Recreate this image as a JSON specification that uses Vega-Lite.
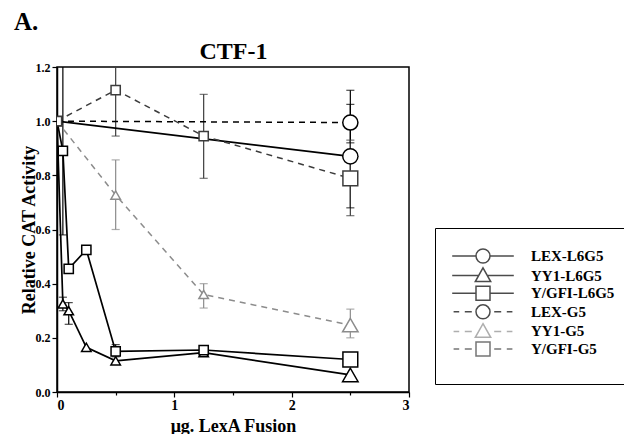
{
  "$schema": "https://vega.github.io/schema/vega-lite/v6.json",
  "width": 352,
  "height": 325,
  "autosize": {"type": "none"},
  "padding": {"left": 57, "top": 67, "right": 215, "bottom": 42},
  "background": "white",
  "title": {"text": "A.", "anchor": "start", "frame": "bounds", "fontSize": 25, "font": "Liberation Serif", "fontWeight": "bold", "color": "black", "dx": -6, "offset": 4},
  "config": {
    "view": {"stroke": "black", "strokeWidth": 1.5},
    "font": "Liberation Serif",
    "axis": {"domainColor": "black", "domainWidth": 1.5, "tickColor": "black", "tickWidth": 1.2, "labelColor": "black", "titleColor": "black", "labelFont": "Liberation Serif", "titleFont": "Liberation Serif", "labelFontWeight": "bold", "titleFontWeight": "bold", "grid": false}
  },
  "data": {"values": [
    {"series": "LEX-L6G5", "x": 0, "y": 1.0},
    {"series": "LEX-L6G5", "x": 2.5, "y": 0.87, "lo": 0.68, "hi": 1.062},
    {"series": "YY1-L6G5", "x": 0, "y": 1.0},
    {"series": "YY1-L6G5", "x": 0.05, "y": 0.325, "lo": 0.30, "hi": 0.35},
    {"series": "YY1-L6G5", "x": 0.1, "y": 0.30, "lo": 0.25, "hi": 0.33},
    {"series": "YY1-L6G5", "x": 0.25, "y": 0.165},
    {"series": "YY1-L6G5", "x": 0.5, "y": 0.115},
    {"series": "YY1-L6G5", "x": 1.25, "y": 0.145},
    {"series": "YY1-L6G5", "x": 2.5, "y": 0.063},
    {"series": "Y/GFI-L6G5", "x": 0, "y": 1.0},
    {"series": "Y/GFI-L6G5", "x": 0.05, "y": 0.89, "lo": 0.58, "hi": 1.3},
    {"series": "Y/GFI-L6G5", "x": 0.1, "y": 0.455},
    {"series": "Y/GFI-L6G5", "x": 0.25, "y": 0.525},
    {"series": "Y/GFI-L6G5", "x": 0.5, "y": 0.15, "lo": 0.13, "hi": 0.175},
    {"series": "Y/GFI-L6G5", "x": 1.25, "y": 0.155},
    {"series": "Y/GFI-L6G5", "x": 2.5, "y": 0.12},
    {"series": "LEX-G5", "x": 0, "y": 1.0},
    {"series": "LEX-G5", "x": 2.5, "y": 0.995, "lo": 0.92, "hi": 1.114},
    {"series": "YY1-G5", "x": 0, "y": 1.0},
    {"series": "YY1-G5", "x": 0.5, "y": 0.727, "lo": 0.60, "hi": 0.857},
    {"series": "YY1-G5", "x": 1.25, "y": 0.36, "lo": 0.31, "hi": 0.40},
    {"series": "YY1-G5", "x": 2.5, "y": 0.247, "lo": 0.20, "hi": 0.306},
    {"series": "Y/GFI-G5", "x": 0, "y": 1.0},
    {"series": "Y/GFI-G5", "x": 0.5, "y": 1.115, "lo": 0.945, "hi": 1.3},
    {"series": "Y/GFI-G5", "x": 1.25, "y": 0.945, "lo": 0.789, "hi": 1.099},
    {"series": "Y/GFI-G5", "x": 2.5, "y": 0.789, "lo": 0.651, "hi": 0.93}
  ]},
  "layer": [
    {
      "layer": [
        {
          "transform": [{"filter": "isValid(datum.lo)"}],
          "mark": {"type": "rule", "clip": true, "strokeWidth": 1.2},
          "encoding": {
            "x": {"field": "x", "type": "quantitative", "scale": {"domain": [0, 3], "nice": false},
              "axis": {"orient": "bottom", "values": [0, 0.5, 1, 1.5, 2, 2.5, 3], "labelExpr": "datum.value % 1 === 0 ? format(datum.value, 'd') : ''", "tickSize": {"condition": {"test": "datum.value % 1 === 0", "value": 5}, "value": 3}, "labelFontSize": 14, "labelPadding": 1, "title": "μg. LexA Fusion", "titleFontSize": 18, "titlePadding": 5}},
            "y": {"field": "lo", "type": "quantitative", "scale": {"domain": [0, 1.2], "nice": false},
              "axis": {"orient": "left", "values": [0, 0.1, 0.2, 0.3, 0.4, 0.5, 0.6, 0.7, 0.8, 0.9, 1.0, 1.1, 1.2], "labelExpr": "round(datum.value * 10) % 2 === 0 ? format(datum.value, '.1f') : ''", "tickSize": {"condition": {"test": "round(datum.value * 10) % 2 === 0", "value": 5}, "value": 3}, "labelFontSize": 12, "labelPadding": 2, "title": "Relative CAT Activity", "titleFontSize": 18, "titlePadding": -3}},
            "y2": {"field": "hi"},
            "color": {"field": "series", "type": "nominal"}
          }
        },
        {
          "transform": [{"filter": "isValid(datum.lo)"}],
          "mark": {"type": "tick", "orient": "horizontal", "size": 7, "thickness": 0.1, "filled": false, "strokeWidth": 1.1, "clip": true},
          "encoding": {
            "x": {"field": "x", "type": "quantitative"},
            "y": {"field": "lo", "type": "quantitative"},
            "color": {"field": "series", "type": "nominal"}
          }
        },
        {
          "transform": [{"filter": "isValid(datum.hi)"}],
          "mark": {"type": "tick", "orient": "horizontal", "size": 7, "thickness": 0.1, "filled": false, "strokeWidth": 1.1, "clip": true},
          "encoding": {
            "x": {"field": "x", "type": "quantitative"},
            "y": {"field": "hi", "type": "quantitative"},
            "color": {"field": "series", "type": "nominal"}
          }
        },
        {
          "transform": [{"filter": "indexof(['LEX-L6G5','YY1-L6G5','Y/GFI-L6G5'], datum.series) >= 0"}],
          "mark": {"type": "line", "clip": true, "strokeWidth": 1.7},
          "encoding": {
            "x": {"field": "x", "type": "quantitative"},
            "y": {"field": "y", "type": "quantitative"},
            "color": {"field": "series", "type": "nominal"}
          }
        },
        {
          "transform": [{"filter": "indexof(['LEX-G5','YY1-G5','Y/GFI-G5'], datum.series) >= 0"}],
          "mark": {"type": "line", "clip": true, "strokeWidth": 1.5, "strokeDash": [6, 5]},
          "encoding": {
            "x": {"field": "x", "type": "quantitative"},
            "y": {"field": "y", "type": "quantitative"},
            "color": {"field": "series", "type": "nominal"}
          }
        },
        {
          "transform": [{"filter": "indexof(['LEX-L6G5','LEX-G5'], datum.series) >= 0"}],
          "mark": {"type": "point", "shape": "circle", "filled": false, "fill": "white", "fillOpacity": 1, "strokeWidth": 1.5, "opacity": 1, "clip": true},
          "encoding": {
            "x": {"field": "x", "type": "quantitative"},
            "y": {"field": "y", "type": "quantitative"},
            "color": {"field": "series", "type": "nominal"},
            "size": {"condition": {"test": "datum.x >= 2.5", "value": 230}, "value": 85}
          }
        },
        {
          "transform": [{"filter": "indexof(['YY1-L6G5','YY1-G5'], datum.series) >= 0"}],
          "mark": {"type": "point", "shape": "triangle-up", "filled": false, "fill": "white", "fillOpacity": 1, "strokeWidth": 1.5, "opacity": 1, "clip": true},
          "encoding": {
            "x": {"field": "x", "type": "quantitative"},
            "y": {"field": "y", "type": "quantitative"},
            "color": {"field": "series", "type": "nominal"},
            "size": {"condition": {"test": "datum.x >= 2.5", "value": 240}, "value": 90}
          }
        },
        {
          "transform": [{"filter": "indexof(['Y/GFI-L6G5','Y/GFI-G5'], datum.series) >= 0"}],
          "mark": {"type": "point", "shape": "square", "filled": false, "fill": "white", "fillOpacity": 1, "strokeWidth": 1.5, "opacity": 1, "clip": true},
          "encoding": {
            "x": {"field": "x", "type": "quantitative"},
            "y": {"field": "y", "type": "quantitative"},
            "color": {"field": "series", "type": "nominal"},
            "size": {"condition": {"test": "datum.x >= 2.5", "value": 220}, "value": 85}
          }
        },
        {
          "transform": [{"filter": "datum.x > 99"}],
          "mark": {"type": "point", "filled": false, "strokeWidth": 1.5, "opacity": 1},
          "encoding": {
            "x": {"field": "x", "type": "quantitative"},
            "y": {"field": "y", "type": "quantitative"},
            "color": {"field": "series", "type": "nominal",
              "scale": {"domain": ["LEX-L6G5", "YY1-L6G5", "Y/GFI-L6G5", "LEX-G5", "YY1-G5", "Y/GFI-G5"], "range": ["#000000", "#000000", "#000000", "#000000", "#8c8c8c", "#3c3c3c"]},
              "legend": {"title": " ", "titleOrient": "bottom", "titleFontSize": 5, "titlePadding": 0, "orient": "none", "legendX": 378, "legendY": 161, "padding": 20, "strokeColor": "black", "symbolSize": 196, "symbolStrokeWidth": 1.5, "symbolOpacity": 1, "symbolFillColor": "white", "symbolOffset": 20, "labelOffset": 40, "labelFont": "Liberation Serif", "labelFontWeight": "bold", "labelFontSize": 15, "labelColor": "black", "rowPadding": -1.4, "labelLimit": 300}},
            "shape": {"field": "series", "type": "nominal",
              "scale": {"domain": ["LEX-L6G5", "YY1-L6G5", "Y/GFI-L6G5", "LEX-G5", "YY1-G5", "Y/GFI-G5"],
                "range": [
                  "M-4.4,0H-1M1,0H4.4M1,0C1,0.55,0.55,1,0,1C-0.55,1,-1,0.55,-1,0C-1,-0.55,-0.55,-1,0,-1C0.55,-1,1,-0.55,1,0Z",
                  "M-4.4,0H-0.55M0.55,0H4.4M0,-1.1L1.1,0.85L-1.1,0.85Z",
                  "M-4.4,0H-1M1,0H4.4M-1,-1H1V1H-1Z",
                  "M-4.2,0H-3.4M-2.6,0H-1.6M1.6,0H2.6M3.4,0H4.2M1,0C1,0.55,0.55,1,0,1C-0.55,1,-1,0.55,-1,0C-1,-0.55,-0.55,-1,0,-1C0.55,-1,1,-0.55,1,0Z",
                  "M-4.2,0H-3.4M-2.6,0H-1.6M1.6,0H2.6M3.4,0H4.2M0,-1.1L1.1,0.85L-1.1,0.85Z",
                  "M-4.2,0H-3.4M-2.6,0H-1.6M1.6,0H2.6M3.4,0H4.2M-1,-1H1V1H-1Z"
                ]},
              "legend": {"title": " ", "titleOrient": "bottom", "titleFontSize": 5, "titlePadding": 0, "orient": "none", "legendX": 378, "legendY": 161, "padding": 20, "strokeColor": "black", "symbolSize": 196, "symbolStrokeWidth": 1.5, "symbolOpacity": 1, "symbolFillColor": "white", "symbolOffset": 20, "labelOffset": 40, "labelFont": "Liberation Serif", "labelFontWeight": "bold", "labelFontSize": 15, "labelColor": "black", "rowPadding": -1.4, "labelLimit": 300}}
          }
        }
      ]
    },
    {
      "transform": [{"filter": "datum.x > 99"}],
      "mark": {"type": "point"},
      "encoding": {
        "x": {"field": "x", "type": "quantitative",
          "axis": {"orient": "top", "domain": false, "ticks": false, "labels": false, "title": "CTF-1", "titleFontSize": 24, "titlePadding": 4}},
        "y": {"field": "y", "type": "quantitative"}
      }
    }
  ]
}
